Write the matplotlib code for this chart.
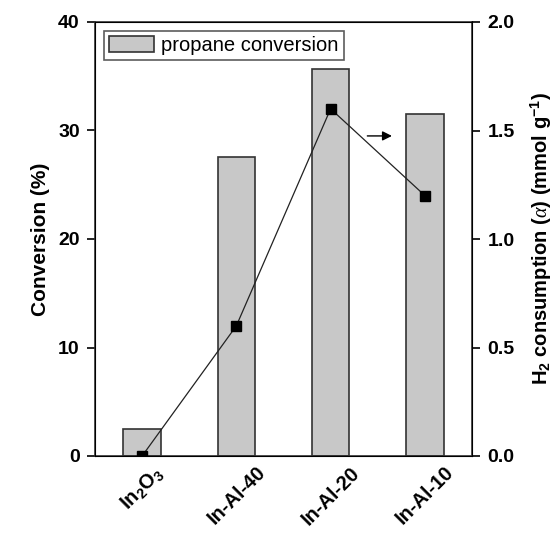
import matplotlib
matplotlib.use('Agg')
import matplotlib.pyplot as plt
import numpy as np

plt.rcParams['font.family'] = ['Liberation Sans', 'DejaVu Sans']
plt.rcParams['mathtext.fontset'] = 'custom'
plt.rcParams['mathtext.rm'] = 'Liberation Sans:bold'
plt.rcParams['mathtext.bf'] = 'Liberation Sans:bold'
plt.rcParams['mathtext.it'] = 'Liberation Serif:italic'

samples = ['In$_2$O$_3$', 'In-Al-40', 'In-Al-20', 'In-Al-10']
conversion = [2.5, 27.6, 35.7, 31.5]
h2_consumption = [0.0, 0.6, 1.6, 1.2]

x = np.arange(len(samples))

fig = plt.figure(figsize=(5.55, 5.34), dpi=100)
ax = fig.add_axes([95/555, 1-456/534, 377/555, 434/534])
ax.bar(x, conversion, width=0.4, color='#c8c8c8', edgecolor='#333333',
       linewidth=1.2, label='propane conversion')
ax.set_xlim(-0.5, 3.5)
ax.set_ylim(0, 40)
ax.set_yticks([0, 10, 20, 30, 40])
ax.set_xticks(x)
ax.set_xticklabels(samples, rotation=45, ha='center',
                   fontsize=14.5, fontweight='bold')
ax.set_ylabel('Conversion (%)', fontsize=15, fontweight='bold', labelpad=6)
for lab in ax.get_yticklabels():
    lab.set_fontweight('bold')
    lab.set_fontsize(14)
ax.tick_params(axis='y', direction='out', length=6, width=1.2, pad=5)
ax.tick_params(axis='x', length=0, pad=5)
for s in ax.spines.values():
    s.set_linewidth(1.2)
    s.set_color('#333333')

ax2 = ax.twinx()
ax2.plot(x, h2_consumption, color='#222222', linewidth=0.9, marker='s',
         markersize=7, markerfacecolor='black', markeredgecolor='black')
ax2.set_ylim(0, 2.0)
ax2.set_yticks([0.0, 0.5, 1.0, 1.5, 2.0])
ax2.set_yticklabels(['0.0', '0.5', '1.0', '1.5', '2.0'], fontsize=14, fontweight='bold')
ax2.tick_params(axis='y', direction='out', length=6, width=1.2, pad=5)
ax2.set_ylabel(r'H$_2$ consumption ($\alpha$) (mmol g$^{-1}$)', fontsize=14.5,
               fontweight='bold', labelpad=10)
ax2.annotate('', xy=(2.68, 1.475), xytext=(2.36, 1.475),
             arrowprops=dict(arrowstyle='-|>', color='black', lw=1.0,
                             mutation_scale=14))

leg = ax.legend(loc='upper left', fontsize=14.5, frameon=True, fancybox=False,
                edgecolor='#333333', borderpad=0.25, handlelength=2.24,
                handleheight=0.83, handletextpad=0.35, borderaxespad=0.45)
leg.get_frame().set_linewidth(1.2)

fig.savefig('out.png', dpi=100)
